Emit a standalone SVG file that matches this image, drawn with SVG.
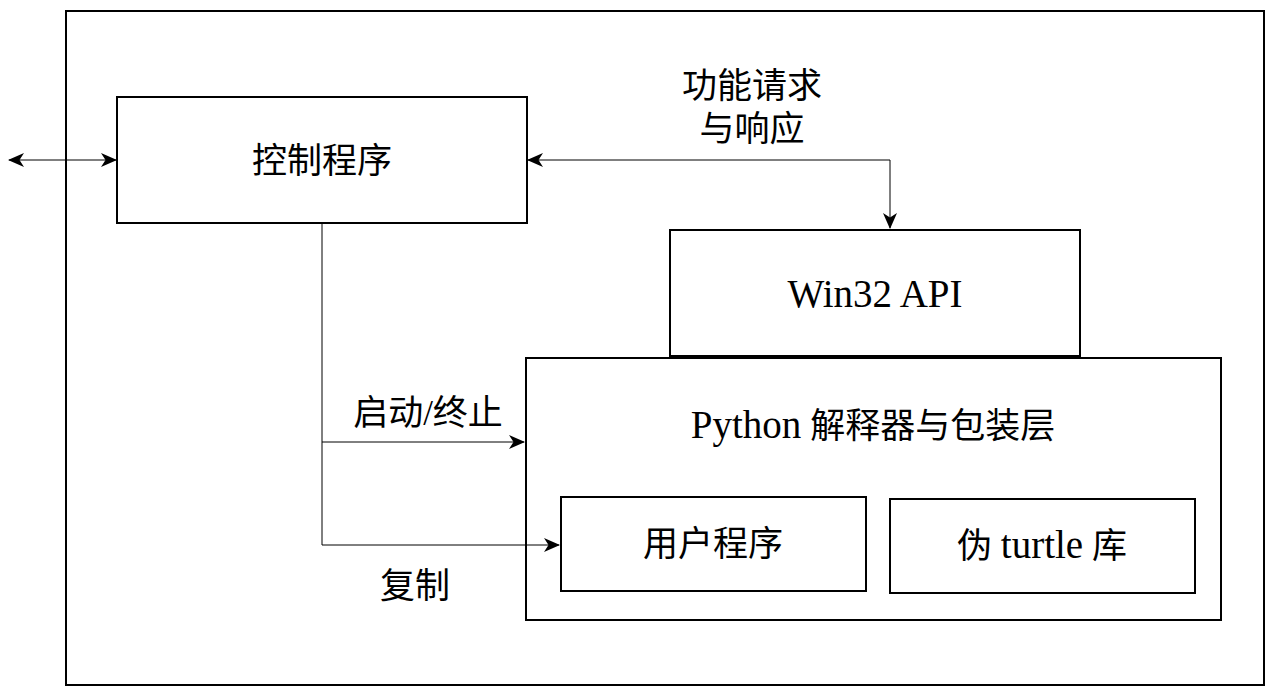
<svg xmlns="http://www.w3.org/2000/svg" width="1276" height="696" viewBox="0 0 1276 696">
<style>
.box{fill:#fff;stroke:#000;stroke-width:2}
.t{font-family:"Liberation Serif","Noto Sans CJK SC",serif;font-size:35px;fill:#000;text-anchor:middle}
.l{font-size:39px}
.c{fill:none;stroke:#000;stroke-width:1}
</style>
<defs>
<marker id="ah" viewBox="0 0 16 14" refX="15" refY="7" markerWidth="16" markerHeight="14" markerUnits="userSpaceOnUse" orient="auto-start-reverse">
<path d="M0,0 L16,7 L0,14 L4.5,7 Z" fill="#000"/>
</marker>
</defs>
<rect id="frame" x="66" y="11" width="1198" height="674" fill="#fff" stroke="#000" stroke-width="2"/>
<g id="control"><rect class="box" x="117" y="97" width="410" height="126"/><text class="t" x="322" y="173">控制程序</text></g>
<g id="win32"><rect class="box" x="670" y="230" width="410" height="126"/><text class="t l" x="875" y="307">Win32 API</text></g>
<g id="python"><rect class="box" x="526" y="358" width="695" height="262"/><text class="t" x="873" y="438"><tspan class="l">Python</tspan> 解释器与包装层</text></g>
<g id="user"><rect class="box" x="561" y="497" width="305" height="94"/><text class="t" x="713" y="556">用户程序</text></g>
<g id="turtle"><rect class="box" x="890" y="499" width="305" height="94"/><text class="t" x="1042" y="558">伪 <tspan class="l">turtle</tspan> 库</text></g>
<g id="connectors">
<path class="c" d="M9,160 L116,160" marker-start="url(#ah)" marker-end="url(#ah)"/>
<path class="c" d="M528,160 L890,160 L890,228" marker-start="url(#ah)" marker-end="url(#ah)"/>
<path class="c" d="M322,224 L322,545 L559,545" marker-end="url(#ah)"/>
<path class="c" d="M322,442 L524,442" marker-end="url(#ah)"/>
</g>
<g id="labels">
<text class="t" x="752" y="98">功能请求</text>
<text class="t" x="752" y="141">与响应</text>
<text class="t" x="428" y="425">启动/终止</text>
<text class="t" x="415" y="598">复制</text>
</g>
</svg>
